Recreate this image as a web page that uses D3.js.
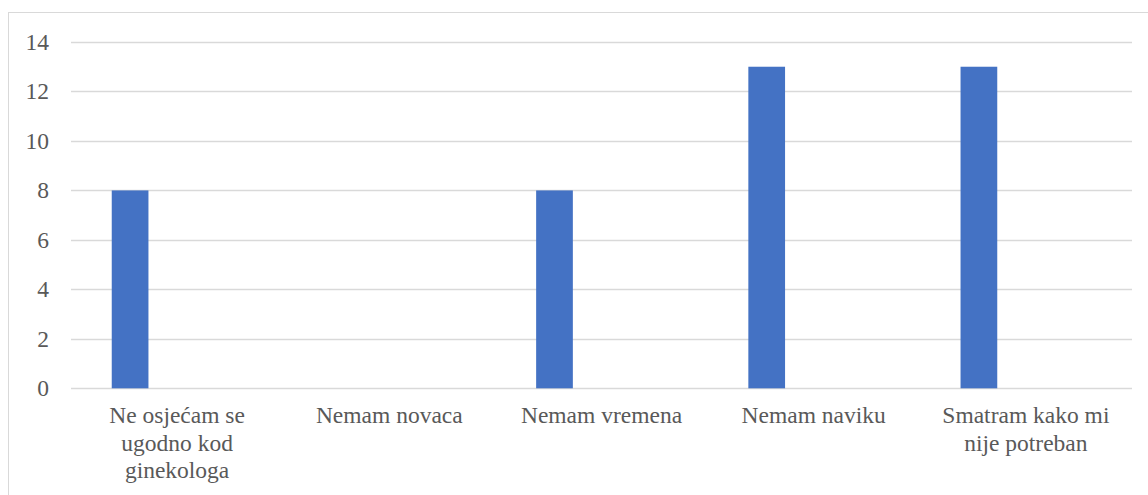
<!DOCTYPE html>
<html>
<head>
<meta charset="utf-8">
<script src="https://cdn.jsdelivr.net/npm/d3@7"></script>
<style>
  body { margin: 0; background: #fff; }
  .lbl { font: 23.5px "Liberation Serif", "Times New Roman", Tinos, serif; fill: #595959; }
</style>
</head>
<body>
<svg id="chart" width="1148" height="495"></svg>
<script>
// Reasons for not visiting a gynecologist
const categories = [
  "Ne osjećam se ugodno kod ginekologa",
  "Nemam novaca",
  "Nemam vremena",
  "Nemam naviku",
  "Smatram kako mi nije potreban"
];
const values = [8, 0, 8, 13, 13];
const yTicks = [0, 2, 4, 6, 8, 10, 12, 14];

const W = 1148, H = 495;
const plot = { left: 71, right: 1132, top: 42, bottom: 388.3 };

const svg = d3.select("#chart");

// chart frame (extends past the right and bottom edges)
svg.append("rect")
  .attr("x", 8.5).attr("y", 12.5)
  .attr("width", W + 20).attr("height", H + 20)
  .attr("fill", "#fff")
  .attr("stroke", "#d9d9d9").attr("stroke-width", 1);

const x = d3.scaleBand()
  .domain(categories)
  .range([plot.left, plot.right])
  .paddingInner(0).paddingOuter(0);

// position of the bar inside each category slot
const slot = d3.scaleLinear().domain([0, 1]).range([0, x.bandwidth()]);
const barStart = 0.192, barWidth = 0.173;

const y = d3.scaleLinear()
  .domain([0, 14])
  .range([plot.bottom, plot.top]);

// horizontal gridlines
svg.append("g")
  .selectAll("line")
  .data(yTicks)
  .join("line")
  .attr("x1", plot.left).attr("x2", plot.right)
  .attr("y1", d => Math.round(y(d)) + 0.5)
  .attr("y2", d => Math.round(y(d)) + 0.5)
  .attr("stroke", "#d9d9d9").attr("stroke-width", 1.3);

// y tick labels
svg.append("g")
  .selectAll("text")
  .data(yTicks)
  .join("text")
  .attr("class", "lbl")
  .attr("x", 49)
  .attr("y", d => y(d))
  .attr("dy", "0.34em")
  .attr("text-anchor", "end")
  .text(d => d);

// bars
svg.append("g")
  .selectAll("rect")
  .data(categories.map((c, i) => ({ c, v: values[i] })))
  .join("rect")
  .attr("x", d => x(d.c) + slot(barStart))
  .attr("width", slot(barWidth))
  .attr("y", d => y(d.v))
  .attr("height", d => y(0) - y(d.v))
  .attr("fill", "#4472c4");

// split a label into lines of at most maxChars characters
function wrapWords(label, maxChars) {
  const lines = [];
  let line = "";
  label.split(" ").forEach(w => {
    const trial = line ? line + " " + w : w;
    if (trial.length > maxChars && line) {
      lines.push(line);
      line = w;
    } else {
      line = trial;
    }
  });
  lines.push(line);
  return lines;
}

// category labels
svg.append("g")
  .selectAll("text")
  .data(categories)
  .join("text")
  .attr("class", "lbl")
  .attr("text-anchor", "middle")
  .each(function (c) {
    const cx = x(c) + x.bandwidth() / 2;
    const t = d3.select(this);
    wrapWords(c, 16).forEach((ln, i) => {
      t.append("tspan")
        .attr("x", cx)
        .attr("y", plot.bottom + 35 + i * 27.5)
        .text(ln);
    });
  });
</script>
</body>
</html>
